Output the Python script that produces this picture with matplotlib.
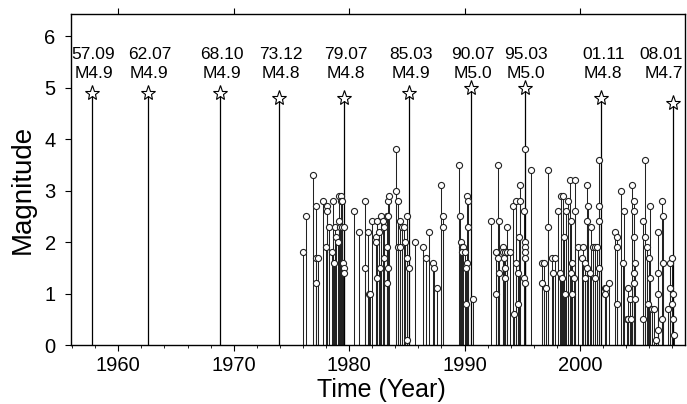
import matplotlib
matplotlib.use('Agg')
import matplotlib.pyplot as plt
from matplotlib.ticker import MultipleLocator

plt.rcParams['font.family'] = ['Liberation Sans', 'DejaVu Sans']

# larger events (stars) with their labels
main_year = [1957.71, 1962.54, 1968.79, 1973.96, 1979.54, 1985.21, 1990.54, 1995.21, 2001.87, 2008.04]
main_mag = [4.9, 4.9, 4.9, 4.8, 4.8, 4.9, 5.0, 5.0, 4.8, 4.7]
main_date = ['57.09', '62.07', '68.10', '73.12', '79.07', '85.03', '90.07', '95.03', '01.11', '08.01']

# small events (circles)
ev_year = [
    1976.0, 1976.3, 1976.9, 1977.1, 1977.1, 1977.3, 1977.1, 1977.7, 1978.1, 1978.1,
    1978.0, 1978.3, 1978.5, 1978.6, 1978.7, 1978.8, 1978.9, 1979.0, 1979.1, 1979.3,
    1979.3, 1979.4, 1979.1, 1979.2, 1979.35, 1979.6, 1979.5, 1979.6, 1979.6, 1980.4,
    1980.85, 1981.4, 1981.4, 1981.6, 1981.7, 1981.8, 1982.0, 1982.3, 1982.35, 1982.4,
    1982.6, 1982.45, 1982.8, 1982.9, 1983.0, 1983.25, 1983.4, 1983.4, 1983.5, 1983.25,
    1983.0, 1983.4, 1983.25, 1982.7, 1984.1, 1984.05, 1984.25, 1984.4, 1984.55, 1984.25,
    1984.45, 1984.8, 1985.0, 1984.85, 1985.0, 1985.2, 1985.0, 1985.7, 1986.4, 1986.7,
    1986.9, 1987.3, 1987.35, 1987.6, 1988.0, 1988.15, 1988.15, 1989.5, 1989.6, 1989.7,
    1989.8, 1989.9, 1989.75, 1990.0, 1990.2, 1990.3, 1990.3, 1990.25, 1990.1, 1990.1,
    1990.7, 1992.3, 1992.9, 1993.0, 1992.7, 1992.9, 1992.7, 1993.0, 1993.35, 1993.3,
    1993.5, 1993.45, 1993.5, 1993.5, 1993.7, 1993.7, 1993.9, 1994.2, 1994.3, 1994.5,
    1994.8, 1994.8, 1994.5, 1994.6, 1994.65, 1994.75, 1995.2, 1995.15, 1995.2, 1995.25,
    1995.2, 1995.25, 1995.15, 1995.25, 1995.75, 1996.7, 1996.7, 1996.9, 1997.1, 1997.2,
    1997.2, 1997.6, 1997.8, 1997.7, 1998.1, 1998.35, 1998.55, 1998.6, 1998.3, 1998.45,
    1998.7, 1998.8, 1999.0, 1999.1, 1999.2, 1999.3, 1999.2, 1999.5, 1999.3, 1999.6,
    1999.6, 1999.85, 2000.3, 2000.2, 2000.6, 2000.7, 2000.65, 2001.0, 2001.15, 2001.3,
    2000.45, 2000.6, 2000.9, 2000.45, 2001.65, 2001.65, 2001.65, 2001.65, 2001.45, 2001.3,
    2002.15, 2002.3, 2002.15, 2002.5, 2003.0, 2003.2, 2003.25, 2003.25, 2003.55, 2003.85,
    2003.75, 2004.05, 2004.2, 2004.15, 2004.3, 2004.4, 2004.55, 2004.7, 2004.7, 2004.7,
    2004.75, 2004.7, 2004.7, 2004.75, 2005.6, 2005.5, 2005.65, 2005.8, 2005.5, 2005.9,
    2006.1, 2006.1, 2006.25, 2006.45, 2006.8, 2006.75, 2006.8, 2006.0, 2006.55, 2006.8,
    2007.1, 2007.2, 2007.2, 2007.15, 2007.8, 2008.0, 2007.8, 2007.65, 2007.95, 2008.1,
    2008.1, 2008.15,
]
ev_mag = [
    1.8, 2.5, 3.3, 2.7, 1.7, 1.7, 1.2, 2.8, 2.7, 2.6,
    1.9, 2.3, 1.8, 2.8, 1.6, 2.3, 2.1, 2.0, 2.9, 2.9,
    2.8, 2.8, 2.4, 2.3, 2.3, 2.3, 1.6, 1.5, 1.4, 2.6,
    2.2, 2.8, 1.5, 2.2, 1.0, 1.0, 2.4, 2.1, 2.0, 2.4,
    2.2, 1.3, 2.5, 2.4, 2.3, 2.5, 2.5, 2.8, 2.9, 1.9,
    1.7, 1.5, 1.2, 1.5, 3.8, 3.0, 2.8, 2.4, 2.3, 1.9,
    1.9, 2.3, 2.5, 2.0, 1.7, 1.5, 0.1, 2.0, 1.9, 1.7,
    2.2, 1.6, 1.5, 1.1, 3.1, 2.5, 2.3, 3.5, 2.5, 2.0,
    1.9, 1.9, 1.8, 1.8, 2.9, 2.8, 2.3, 1.6, 1.5, 0.8,
    0.9, 2.4, 3.5, 2.4, 1.8, 1.7, 1.0, 1.4, 1.9, 1.8,
    1.8, 1.7, 1.5, 1.3, 1.8, 2.3, 1.8, 2.7, 0.6, 2.8,
    2.8, 3.1, 1.6, 1.4, 0.8, 2.1, 3.8, 2.6, 2.0, 1.9,
    1.8, 1.7, 1.3, 1.2, 3.4, 1.6, 1.2, 1.6, 1.1, 3.4,
    2.3, 1.7, 1.7, 1.4, 2.6, 2.9, 2.9, 2.1, 1.4, 1.3,
    1.0, 2.6, 2.8, 3.2, 2.4, 1.6, 1.4, 1.3, 1.0, 3.2,
    2.6, 1.9, 1.9, 1.7, 3.1, 2.7, 2.4, 2.3, 1.9, 1.9,
    1.6, 1.5, 1.4, 1.3, 3.6, 2.7, 2.4, 1.5, 1.9, 1.3,
    1.1, 1.1, 1.0, 1.2, 2.2, 2.1, 1.9, 0.8, 3.0, 2.6,
    1.6, 0.5, 0.5, 1.1, 0.9, 0.5, 3.1, 2.8, 2.6, 2.1,
    1.6, 1.4, 1.2, 0.9, 3.6, 2.4, 2.1, 1.9, 0.5, 0.8,
    2.7, 1.3, 0.7, 0.7, 2.2, 1.4, 1.0, 1.7, 0.1, 0.3,
    2.8, 2.5, 1.6, 0.5, 1.6, 1.7, 1.1, 0.7, 0.8, 1.0,
    0.5, 0.2,
]

xmin, xmax = 1955.9, 2009.1

fig = plt.figure(figsize=(6.87, 4.04), dpi=100)
ax = fig.add_axes([0.1033, 0.146, 0.8937, 0.8193])

# small events: stems + open circles
ax.vlines(ev_year, 0, ev_mag, color='#222222', lw=0.75, zorder=2)
ax.plot(ev_year, ev_mag, 'o', ms=4.4, mfc='white', mec='#222222', mew=0.8, zorder=3)

# larger events: stems + open stars
ax.vlines(main_year, 0, main_mag, color='black', lw=0.9, zorder=2)
ax.plot(main_year, main_mag, '*', ms=11, mfc='white', mec='black', mew=0.8, zorder=4)

for yr, m, d in zip(main_year, main_mag, main_date):
    # keep the last label inside the frame
    if yr + 1.6 > xmax:
        tx, ha = xmax - 0.2, 'right'
    else:
        tx, ha = yr + 0.15, 'center'
    ax.text(tx, 5.64, d, ha=ha, va='center', fontsize=12.5)
    ax.text(tx, 5.28, 'M%.1f' % m, ha=ha, va='center', fontsize=12.5)

ax.set_xlim(xmin, xmax)
ax.set_ylim(0, 6.43)
ax.set_xticks([1960, 1970, 1980, 1990, 2000])
ax.xaxis.set_minor_locator(MultipleLocator(2))
ax.set_yticks(range(0, 7))

ax.tick_params(axis='both', which='major', direction='out', length=4, width=0.8,
               labelsize=14.5, pad=4)
ax.tick_params(axis='x', which='minor', direction='out', length=2, width=0.6)
ax.tick_params(axis='x', which='major', top=True)
ax.tick_params(axis='y', which='major', pad=7)
for s in ax.spines.values():
    s.set_linewidth(1.0)

ax.set_xlabel('Time (Year)', fontsize=18, va='center')
ax.xaxis.set_label_coords(0.505, -0.136)
ax.set_ylabel('Magnitude', fontsize=20, va='center')
ax.yaxis.set_label_coords(-0.078, 0.47)

fig.savefig('out.png', dpi=100)
